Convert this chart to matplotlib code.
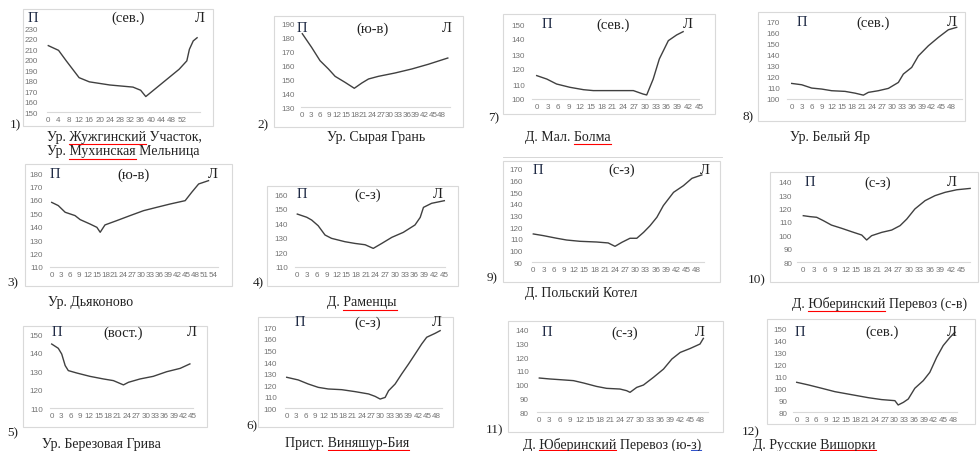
"""
Поперечные профили долины - 12 малых графиков на одной странице
"""

import matplotlib.pyplot as plt
from matplotlib.patches import Rectangle
from matplotlib.lines import Line2D

W, H = 980, 452

# ---- Data (distance, elevation) per profile ----
dist_1 = [0, 4, 7, 12, 16, 24, 33, 36, 38, 40, 44, 47, 51, 54, 55, 56.5, 58]
elev_1 = [213.5, 209, 199, 183, 179, 176, 174, 171, 165, 169, 177, 183, 191, 199, 210, 218, 221]
ticks_1 = [0, 4, 8, 12, 16, 20, 24, 28, 32, 36, 40, 44, 48, 52]

dist_2 = [0, 3.2, 6.1, 9, 11.3, 14.7, 17.9, 20.5, 22.8, 26.2, 31.9, 37.7, 43.4, 50.1]
elev_2 = [183, 173.2, 163.6, 157.6, 152.3, 148, 143.7, 147.5, 150.4, 152.3, 154.7, 157.6, 161, 165.5]
ticks_2 = [0, 3, 6, 9, 12, 15, 18, 21, 24, 27, 30, 33, 36, 39, 42, 45, 48]

dist_3 = [0, 2.2, 4.5, 7.8, 9.5, 12.8, 15.1, 16.2, 17.8, 21.7, 26.2, 30.7, 35.1, 39.6, 44.6, 46.8, 49.1, 52.4]
elev_3 = [158.2, 155.8, 150.8, 148.3, 145.3, 142, 139.5, 135.8, 141.3, 144.5, 148.3, 152, 154.5, 157, 159.5, 165.8, 172, 174.5]
ticks_3 = [0, 3, 6, 9, 12, 15, 18, 21, 24, 27, 30, 33, 36, 39, 42, 45, 48, 51, 54]

dist_4 = [0, 2.9, 4.4, 6.4, 8.5, 10.5, 14.6, 17.7, 20.8, 23.3, 25.9, 29, 32.5, 36.1, 37.7, 38.7, 41.2, 45.1]
elev_4 = [146.2, 144, 142.1, 138.2, 131.8, 129.5, 127.2, 126, 125.1, 122.6, 126, 130.2, 133.6, 138.7, 143.9, 150.8, 153.6, 155.4]
ticks_4 = [0, 3, 6, 9, 12, 15, 18, 21, 24, 27, 30, 33, 36, 39, 42, 45]

dist_5 = [0, 2.1, 3.2, 4.3, 5.3, 8, 12.2, 16.5, 19.7, 22.9, 24.5, 28.2, 32.4, 36.7, 41, 44.1]
elev_5 = [144.6, 142.3, 139.2, 133, 130.3, 129, 127.2, 125.8, 124.9, 122.6, 124, 125.8, 127.2, 129.7, 131.5, 133.9]
ticks_5 = [0, 3, 6, 9, 12, 15, 18, 21, 24, 27, 30, 33, 36, 39, 42, 45]

dist_6 = [0, 3.7, 6.9, 10.1, 13.3, 17.6, 21.9, 26.2, 28.3, 29.9, 31.5, 32.6, 34.7, 36.8, 39, 41.1, 43.2, 44.8, 47.5, 49.1]
elev_6 = [126.8, 124.5, 121, 118.1, 116.7, 116.1, 114.4, 112.4, 110.3, 108, 109.4, 115.2, 121, 129.7, 138.3, 146.9, 155.6, 161.4, 164.8, 167.1]
ticks_6 = [0, 3, 6, 9, 12, 15, 18, 21, 24, 27, 30, 33, 36, 39, 42, 45, 48]

dist_7 = [0, 2.8, 5.5, 9.2, 13, 15.7, 26.8, 29.5, 30.5, 32.3, 34, 36.5, 38.8, 40.6]
elev_7 = [115.6, 113.3, 110, 107.8, 106.2, 105.6, 105.6, 103.3, 102.7, 113.3, 126.7, 138.9, 142.7, 144.9]
ticks_7 = [0, 3, 6, 9, 12, 15, 18, 21, 24, 27, 30, 33, 36, 39, 42, 45]

dist_8 = [0, 3, 6, 9, 12, 16, 19, 21.5, 23, 26, 29, 32, 33.5, 36, 38, 41, 44, 47, 49.5]
elev_8 = [114.1, 112.9, 109.9, 109, 107.5, 106.9, 105.3, 103.5, 106, 107.5, 109.6, 115, 122.6, 128.6, 139, 148.2, 155.8, 162.7, 164.9]
ticks_8 = [0, 3, 6, 9, 12, 15, 18, 21, 24, 27, 30, 33, 36, 39, 42, 45, 48]

dist_9 = [0, 2.9, 6.9, 9.8, 13.7, 18.6, 22, 24, 26, 28.4, 30.4, 32.4, 34.3, 36.3, 38.2, 41.2, 44.1, 46.6, 49.5]
elev_9 = [114.3, 112.9, 110.6, 109.1, 108, 107.4, 106.6, 103.7, 107.1, 110.6, 110.6, 115.7, 121.4, 128.6, 138.6, 150, 155.7, 162, 164.9]
ticks_9 = [0, 3, 6, 9, 12, 15, 18, 21, 24, 27, 30, 33, 36, 39, 42, 45, 48]

dist_10 = [0, 1.9, 3.8, 5.7, 8, 10.9, 13.7, 16.6, 18, 19.4, 22.3, 25.1, 27.5, 29.4, 31.7, 34.6, 37.4, 40.3, 43.6, 47.4]
elev_10 = [114.7, 114, 113.5, 111, 107.7, 105.3, 102.8, 100.3, 96.6, 99.8, 102.3, 104, 107.3, 112.2, 119.7, 125.9, 129.6, 132.1, 134, 135]
ticks_10 = [0, 3, 6, 9, 12, 15, 18, 21, 24, 27, 30, 33, 36, 39, 42, 45]

dist_11 = [0, 3.2, 6.2, 10.2, 13.2, 17.1, 20.1, 24.1, 26.1, 27.1, 29.1, 31.1, 34.1, 37.1, 39.6, 42.1, 45.1, 48, 49]
elev_11 = [104.9, 104.2, 103.7, 103, 101.3, 98.8, 97.4, 96.9, 95.7, 94.5, 98.1, 99.8, 105.4, 111.4, 118.7, 123.5, 126.4, 129.6, 133.7]
ticks_11 = [0, 3, 6, 9, 12, 15, 18, 21, 24, 27, 30, 33, 36, 39, 42, 45, 48]

dist_12 = [0, 3.6, 7.7, 11.7, 16.8, 21.9, 26, 30.1, 31.1, 32.7, 34.2, 36.2, 38.8, 40.8, 42.9, 44.9, 47, 48.5]
elev_12 = [105, 102.8, 100, 97.2, 94.7, 92.2, 90.6, 89.7, 86.1, 88.3, 91.1, 100, 106.4, 113.3, 125.8, 135.6, 142.5, 146.7]
ticks_12 = [0, 3, 6, 9, 12, 15, 18, 21, 24, 27, 30, 33, 36, 39, 42, 45, 48]

# y range (bottom tick, top tick) of each profile
yrange = {1: (150, 230), 2: (130, 190), 3: (110, 180), 4: (110, 160),
          5: (110, 150), 6: (100, 170), 7: (100, 150), 8: (100, 170),
          9: (90, 170), 10: (80, 140), 11: (80, 140), 12: (80, 150)}

directions = {1: "(сев.)", 2: "(ю-в)", 3: "(ю-в)", 4: "(с-з)", 5: "(вост.)",
              6: "(с-з)", 7: "(сев.)", 8: "(сев.)", 9: "(с-з)", 10: "(с-з)",
              11: "(с-з)", 12: "(сев.)"}

captions = {1: ["Ур. Жужгинский Участок,", "Ур. Мухинская Мельница"],
            2: ["Ур. Сырая Грань"], 3: ["Ур. Дьяконово"], 4: ["Д. Раменцы"],
            5: ["Ур. Березовая Грива"], 6: ["Прист. Виняшур-Бия"],
            7: ["Д. Мал. Болма"], 8: ["Ур. Белый Яр"], 9: ["Д. Польский Котел"],
            10: ["Д. Юберинский Перевоз (с-в)"],
            11: ["Д. Юберинский Перевоз (ю-з)"], 12: ["Д. Русские Вишорки"]}

# words marked by the spell checker: (panel, caption line, prefix, word, colour)
marked = [(1, 0, "Ур. ", "Жужгинский", "red"), (1, 1, "Ур. ", "Мухинская", "red"),
          (7, 0, "Д. Мал. ", "Болма", "red"), (4, 0, "Д. ", "Раменцы", "red"),
          (10, 0, "Д. ", "Юберинский", "red"), (6, 0, "Прист. ", "Виняшур-Бия", "red"),
          (11, 0, "Д. ", "Юберинский", "red"), (11, 0, "Д. Юберинский Перевоз (ю-", "з)", "#3355cc"),
          (12, 0, "Д. Русские ", "Вишорки", "red")]

series = {1: (dist_1, elev_1, ticks_1), 2: (dist_2, elev_2, ticks_2),
          3: (dist_3, elev_3, ticks_3), 4: (dist_4, elev_4, ticks_4),
          5: (dist_5, elev_5, ticks_5), 6: (dist_6, elev_6, ticks_6),
          7: (dist_7, elev_7, ticks_7), 8: (dist_8, elev_8, ticks_8),
          9: (dist_9, elev_9, ticks_9), 10: (dist_10, elev_10, ticks_10),
          11: (dist_11, elev_11, ticks_11), 12: (dist_12, elev_12, ticks_12)}

# ---- Layout in page pixels ----
layout = {
    1: dict(box=(23, 10, 213, 127), x0=48.3, xl=181.7, yt=29.3, yb=113.3, xlim=(-0.7, 59.2),
            lab_r=38, hx=(33, 128, 200), hy=18, num=(10, 125), cap=(47, 137)),
    2: dict(box=(274, 17, 463, 128), x0=302.3, xl=441.7, yt=25, yb=108.3, xlim=(-0.5, 51),
            lab_r=295, hx=(302, 372, 447), hy=29, num=(257, 125), cap=(327, 138)),
    3: dict(box=(25, 165, 232, 287), x0=51.7, xl=213.3, yt=174.3, yb=267.7, xlim=(-0.6, 55.7),
            lab_r=43, hx=(55, 133, 213), hy=175, num=(7, 283), cap=(48, 303)),
    4: dict(box=(267, 187, 458, 287), x0=297.3, xl=444, yt=195, yb=267.7, xlim=(-0.7, 45.3),
            lab_r=288, hx=(302, 368, 438), hy=195, num=(253, 283), cap=(327, 303)),
    5: dict(box=(23, 327, 207, 428), x0=51.7, xl=192.7, yt=335, yb=409.3, xlim=(-0.5, 45.2),
            lab_r=43, hx=(57, 123, 192), hy=333, num=(7, 433), cap=(42, 445)),
    6: dict(box=(258, 318, 453, 428), x0=286.7, xl=436.7, yt=328.3, yb=409.3, xlim=(-0.5, 49.6),
            lab_r=277, hx=(300, 368, 437), hy=323, num=(246, 426), cap=(285, 444)),
    7: dict(box=(503, 15, 715, 115), x0=536.7, xl=699, yt=25, yb=100, xlim=(-1.4, 45),
            lab_r=525, hx=(547, 613, 688), hy=25, num=(488, 118), cap=(525, 137)),
    8: dict(box=(758, 13, 965, 122), x0=791.7, xl=951.7, yt=22.7, yb=100, xlim=(-1.5, 51),
            lab_r=780, hx=(802, 873, 952), hy=23, num=(742, 117), cap=(790, 137)),
    9: dict(box=(503, 162, 720, 283), x0=533.3, xl=696.7, yt=170, yb=263.3, xlim=(-0.5, 50),
            lab_r=523, hx=(538, 622, 705), hy=170, num=(487, 278), cap=(525, 294)),
    10: dict(box=(770, 173, 978, 283), x0=803.3, xl=961.7, yt=182.7, yb=263.3, xlim=(-1.9, 47.3),
             lab_r=792, hx=(810, 878, 952), hy=183, num=(748, 280), cap=(792, 304)),
    11: dict(box=(508, 322, 723, 433), x0=539.3, xl=700, yt=330.7, yb=413.3, xlim=(-0.8, 50.5),
             lab_r=529, hx=(547, 625, 700), hy=333, num=(486, 430), cap=(523, 445)),
    12: dict(box=(767, 320, 975, 425), x0=796.7, xl=953.3, yt=329.3, yb=413.3, xlim=(-1, 49),
             lab_r=787, hx=(800, 882, 952), hy=332, num=(742, 432), cap=(753, 446)),
}

CAP_STEP = 15
SERIF = "Liberation Serif"
SANS = "Liberation Sans"
TICK_COLOR = "#737373"
LINE_COLOR = "#404040"
CAP_SIZE = 10
HEAD_SIZE = 10.5
TICK_SIZE = 5.8


def fx(x):
    return x / W


def fy(y):
    return 1 - y / H


fig = plt.figure(figsize=(W / 100, H / 100), dpi=100)
fig.patch.set_facecolor("white")
renderer = fig.canvas.get_renderer()


def text_width(s):
    t = fig.text(0, 0, s, fontsize=CAP_SIZE, family=SERIF)
    w = t.get_window_extent(renderer).width
    t.remove()
    return w


for k in range(1, 13):
    L = layout[k]
    d, e, ticks = series[k]
    ylo, yhi = yrange[k]

    # frame around the chart
    bx0, by0, bx1, by1 = L["box"]
    fig.patches.append(Rectangle((fx(bx0), fy(by1)), (bx1 - bx0) / W, (by1 - by0) / H,
                                 transform=fig.transFigure, fill=False,
                                 edgecolor="#d9d9d9", linewidth=0.8))

    s = (L["xl"] - L["x0"]) / ticks[-1]
    left = L["x0"] + L["xlim"][0] * s
    right = L["x0"] + L["xlim"][1] * s
    ax = fig.add_axes([fx(left), fy(L["yb"]), (right - left) / W, (L["yb"] - L["yt"]) / H])
    ax.plot(d, e, color=LINE_COLOR, linewidth=1.0, clip_on=False)
    ax.set_xlim(*L["xlim"])
    ax.set_ylim(ylo, yhi)
    ax.set_xticks(ticks)
    ax.set_xticklabels([str(t) for t in ticks])
    ax.set_yticks(list(range(ylo, yhi + 1, 10)))
    ax.patch.set_alpha(0)
    for side in ["top", "right", "left"]:
        ax.spines[side].set_visible(False)
    ax.spines["bottom"].set_color("#d9d9d9")
    ax.spines["bottom"].set_linewidth(0.8)
    ypad = (left - L["lab_r"]) * 0.72
    ax.tick_params(axis="x", length=0, pad=3, labelsize=TICK_SIZE, labelcolor=TICK_COLOR)
    ax.tick_params(axis="y", length=0, pad=ypad, labelsize=TICK_SIZE, labelcolor=TICK_COLOR)
    for lab in ax.get_xticklabels() + ax.get_yticklabels():
        lab.set_fontfamily(SANS)

    # П / direction / Л headers
    hx = L["hx"]
    fig.text(fx(hx[0]), fy(L["hy"]), "П", ha="center", va="center",
             fontsize=HEAD_SIZE, family=SERIF, color="#1f2a44")
    fig.text(fx(hx[1]), fy(L["hy"]), directions[k], ha="center", va="center",
             fontsize=HEAD_SIZE, family=SERIF, color="#222222")
    fig.text(fx(hx[2]), fy(L["hy"]), "Л", ha="center", va="center",
             fontsize=HEAD_SIZE, family=SERIF, color="#222222")

    # panel number
    fig.text(fx(L["num"][0]), fy(L["num"][1]), f"{k})", ha="left", va="center",
             fontsize=9.5, family=SERIF, color="#222222")

    # caption
    cx, cy = L["cap"]
    for i, line in enumerate(captions[k]):
        fig.text(fx(cx), fy(cy + i * CAP_STEP), line, ha="left", va="center",
                 fontsize=CAP_SIZE, family=SERIF, color="#222222")

# spell-check underlines
for k, li, prefix, word, c in marked:
    cx, cy = layout[k]["cap"]
    x1 = cx + text_width(prefix + word)
    x0 = x1 - text_width(word)
    y = min(cy + li * CAP_STEP + 7.5, 450.5)
    fig.lines.append(Line2D([fx(x0), fx(x1)], [fy(y), fy(y)], transform=fig.transFigure,
                            color=c, linewidth=0.8))

# table rule under caption 7
fig.lines.append(Line2D([fx(503), fx(722)], [fy(158), fy(158)], transform=fig.transFigure,
                        color="#d0d0d0", linewidth=0.6))

fig.savefig("out.png", dpi=100)
